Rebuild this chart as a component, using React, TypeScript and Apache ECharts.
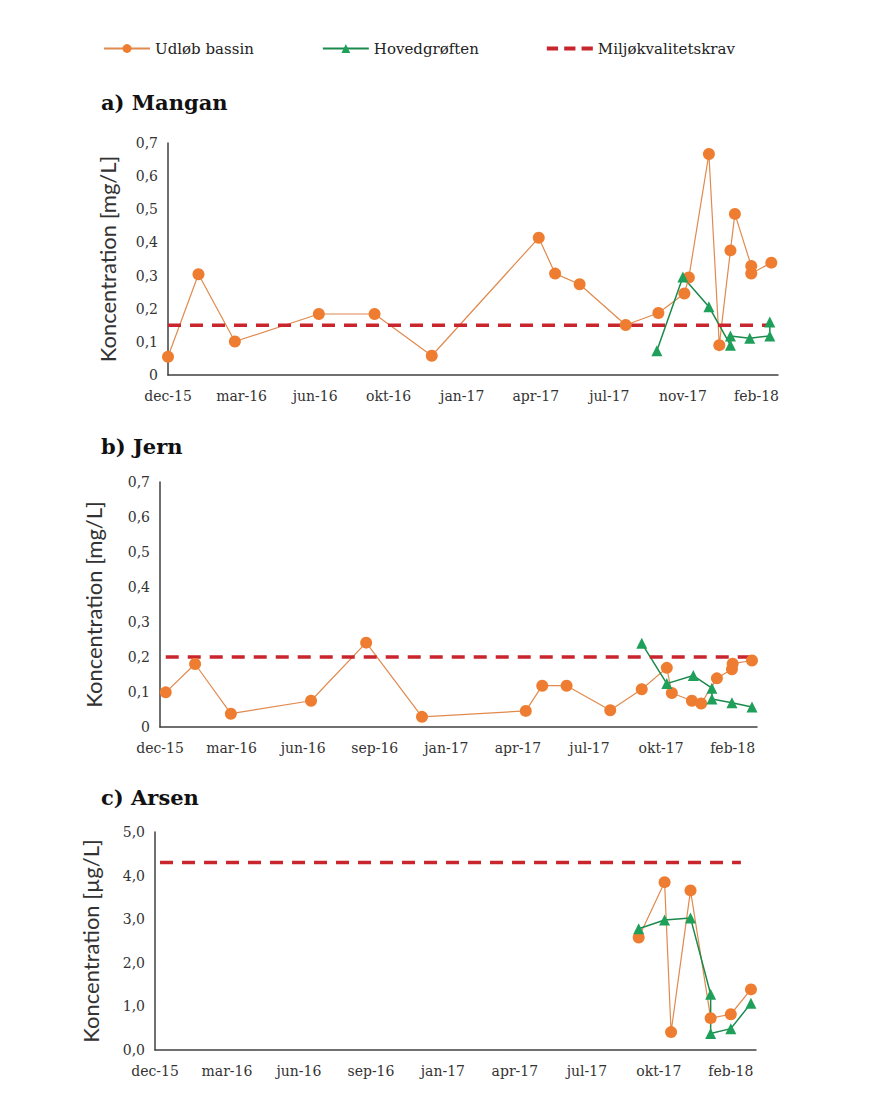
import React, { useEffect, useRef } from 'react';
import * as echarts from 'echarts';

// Tick labels of the three date axes
const mnTickLabels = ['dec-15', 'mar-16', 'jun-16', 'okt-16', 'jan-17', 'apr-17', 'jul-17', 'nov-17', 'feb-18'];
const feTickLabels = ['dec-15', 'mar-16', 'jun-16', 'sep-16', 'jan-17', 'apr-17', 'jul-17', 'okt-17', 'feb-18'];
const asTickLabels = ['dec-15', 'mar-16', 'jun-16', 'sep-16', 'jan-17', 'apr-17', 'jul-17', 'okt-17', 'feb-18'];

// Day offsets from each axis start, and concentrations
// a) Mangan [mg/L]
const mnUdlobDays = [0, 41, 90, 203, 278, 355, 499, 521, 554, 616, 660, 695, 701, 728, 742, 757, 763, 785, 785, 812];
const mnUdlobVals = [0.055, 0.304, 0.101, 0.184, 0.184, 0.058, 0.414, 0.306, 0.274, 0.151, 0.187, 0.246, 0.294, 0.667, 0.09, 0.376, 0.486, 0.329, 0.306, 0.339];
const mnHovedDays = [658, 693, 728, 757, 757, 783, 810, 810];
const mnHovedVals = [0.073, 0.296, 0.206, 0.09, 0.118, 0.111, 0.118, 0.16];
const mnLimitDays = [0, 812];
const mnLimitVals = [0.15, 0.15];

// b) Jern [mg/L]
const feUdlobDays = [8, 49, 99, 211, 288, 366, 511, 534, 568, 629, 673, 708, 715, 743, 756, 778, 799, 800, 827];
const feUdlobVals = [0.099, 0.18, 0.038, 0.075, 0.241, 0.029, 0.046, 0.118, 0.118, 0.048, 0.108, 0.169, 0.097, 0.075, 0.067, 0.139, 0.165, 0.181, 0.19];
const feHovedDays = [673, 708, 745, 771, 771, 799, 827];
const feHovedVals = [0.239, 0.124, 0.147, 0.111, 0.08, 0.069, 0.057];
const feLimitDays = [8, 827];
const feLimitVals = [0.2, 0.2];

// c) Arsen [µg/L]
const asUdlobDays = [672, 708, 717, 744, 772, 800, 828];
const asUdlobVals = [2.58, 3.85, 0.41, 3.66, 0.73, 0.82, 1.39];
const asHovedDays = [672, 708, 744, 772, 772, 800, 828];
const asHovedVals = [2.78, 2.98, 3.03, 1.28, 0.38, 0.49, 1.07];
const asLimitDays = [7, 814];
const asLimitVals = [4.3, 4.3];

const SERIF = '"DejaVu Serif", "Liberation Serif", serif';
const SANS = 'Lato, "Liberation Sans", sans-serif';
const ORANGE = '#EE7D31';
const ORANGE_LINE = '#E08A4E';
const GREEN = '#1FA05A';
const GREEN_LINE = '#1B8A4C';
const RED = '#C9252C';
const AXIS = '#404040';

const zip = (xs: number[], ys: number[]) => xs.map((x, i) => [x, ys[i]]);

export default function App() {
  const ref = useRef<HTMLDivElement>(null);

  useEffect(() => {
    if (!ref.current) return;
    const chart = echarts.init(ref.current, undefined, { renderer: 'svg' });

    const panels = [
      { top: 143, bottom: 1110 - 375, left: 168, right: 879 - 778, max: 821, interval: 99, labels: mnTickLabels, ymax: 0.7, yint: 0.1, name: 'Koncentration [mg/L]', gap: 50, fmt: (v: number) => (v === 0 ? '0' : v.toFixed(1).replace('.', ',')),
        u: zip(mnUdlobDays, mnUdlobVals), h: zip(mnHovedDays, mnHovedVals), l: zip(mnLimitDays, mnLimitVals) },
      { top: 482, bottom: 1110 - 727, left: 160, right: 879 - 757, max: 834, interval: 100, labels: feTickLabels, ymax: 0.7, yint: 0.1, name: 'Koncentration [mg/L]', gap: 56, fmt: (v: number) => (v === 0 ? '0' : v.toFixed(1).replace('.', ',')),
        u: zip(feUdlobDays, feUdlobVals), h: zip(feHovedDays, feHovedVals), l: zip(feLimitDays, feLimitVals) },
      { top: 832, bottom: 1110 - 1050, left: 155, right: 879 - 756, max: 835, interval: 100, labels: asTickLabels, ymax: 5, yint: 1, name: 'Koncentration [µg/L]', gap: 54, fmt: (v: number) => v.toFixed(1).replace('.', ','),
        u: zip(asUdlobDays, asUdlobVals), h: zip(asHovedDays, asHovedVals), l: zip(asLimitDays, asLimitVals) },
    ];

    const grid = panels.map((p) => ({ top: p.top, bottom: p.bottom, left: p.left, right: p.right, containLabel: false }));
    const xAxis = panels.map((p, i) => ({
      type: 'value', gridIndex: i, min: 0, max: p.max, interval: p.interval,
      splitLine: { show: false }, axisTick: { show: false },
      axisLine: { show: true, lineStyle: { color: AXIS, width: 1.5 } },
      axisLabel: {
        showMaxLabel: false, margin: 14, color: '#333', fontFamily: SERIF, fontSize: 14,
        formatter: (v: number) => {
          const k = Math.round(v / p.interval);
          return Math.abs(v - k * p.interval) < 1e-6 && k < p.labels.length ? p.labels[k] : '';
        },
      },
    }));
    const yAxis = panels.map((p, i) => ({
      type: 'value', gridIndex: i, min: 0, max: p.ymax, interval: p.yint,
      splitLine: { show: false }, axisTick: { show: false },
      axisLine: { show: true, lineStyle: { color: AXIS, width: 1.5 } },
      axisLabel: { margin: 10, color: '#333', fontFamily: SERIF, fontSize: 14, formatter: p.fmt },
      name: p.name, nameLocation: 'middle', nameGap: p.gap,
      nameTextStyle: { fontFamily: SANS, fontSize: 22, color: '#333' },
    }));

    const series: any[] = [];
    panels.forEach((p, i) => {
      series.push({
        name: 'Udløb bassin', type: 'line', xAxisIndex: i, yAxisIndex: i, data: p.u,
        symbol: 'circle', symbolSize: 12, itemStyle: { color: ORANGE },
        lineStyle: { color: ORANGE_LINE, width: 1.2 },
      });
      series.push({
        name: 'Hovedgrøften', type: 'line', xAxisIndex: i, yAxisIndex: i, data: p.h,
        symbol: 'triangle', symbolSize: 11, itemStyle: { color: GREEN },
        lineStyle: { color: GREEN_LINE, width: 1.5 },
      });
      series.push({
        name: 'Miljøkvalitetskrav', type: 'line', xAxisIndex: i, yAxisIndex: i, data: p.l,
        symbol: 'none', itemStyle: { color: RED },
        lineStyle: { color: RED, width: 3.5, type: [13, 9] },
      });
    });

    const titleStyle = { fontFamily: SERIF, fontSize: 21, fontWeight: 'bold', fill: '#111' };
    chart.setOption({
      animation: false,
      backgroundColor: '#fff',
      legend: {
        top: 36, left: 98, itemWidth: 46, itemHeight: 11, itemGap: 68,
        textStyle: { fontFamily: SERIF, fontSize: 15, color: '#222' },
        data: [
          'Udløb bassin',
          'Hovedgrøften',
          { name: 'Miljøkvalitetskrav', icon: 'path://M0,0H11V4H0Z M17,0H28V4H17Z M34,0H45V4H34Z' },
        ],
      },
      graphic: [
        { type: 'text', left: 101, top: 92, style: { ...titleStyle, text: 'a) Mangan' } },
        { type: 'text', left: 101, top: 436, style: { ...titleStyle, text: 'b) Jern' } },
        { type: 'text', left: 101, top: 787, style: { ...titleStyle, text: 'c) Arsen' } },
      ],
      grid, xAxis, yAxis, series,
    });
    return () => chart.dispose();
  }, []);

  return <div ref={ref} style={{ position: 'absolute', left: 0, top: 0, width: 879, height: 1110, background: '#fff' }} />;
}
